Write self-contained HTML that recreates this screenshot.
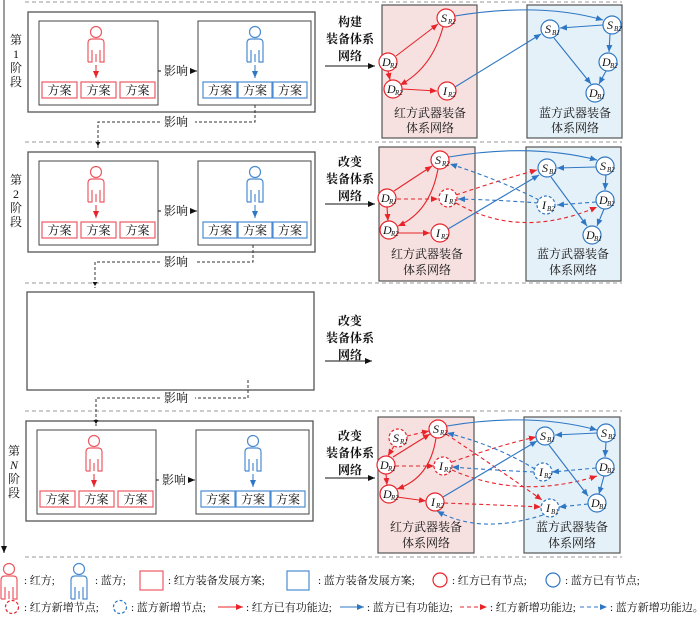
<!DOCTYPE html>
<html><head><meta charset="utf-8"><style>
body{margin:0;background:#fff;}
svg{display:block;font-family:"Liberation Serif","Noto Serif CJK SC",serif;}
.t{font-size:12px;fill:#111;}
.lg{font-size:11px;fill:#111;}
.nl{font-size:12px;font-style:italic;fill:#111;}
.sb{font-size:7px;font-style:italic;fill:#111;}
</style></head><body>
<svg width="700" height="620" viewBox="0 0 700 620" xmlns="http://www.w3.org/2000/svg">
<defs>
<marker id="ak" markerWidth="8" markerHeight="8" refX="7" refY="3" orient="auto" markerUnits="userSpaceOnUse"><path d="M0,0 L7,3 L0,6 Z" fill="#111"/></marker>
<marker id="ar" markerWidth="8" markerHeight="8" refX="7" refY="3" orient="auto" markerUnits="userSpaceOnUse"><path d="M0,0 L7,3 L0,6 Z" fill="#e8232a"/></marker>
<marker id="ab" markerWidth="8" markerHeight="8" refX="7" refY="3" orient="auto" markerUnits="userSpaceOnUse"><path d="M0,0 L7,3 L0,6 Z" fill="#2f77c4"/></marker>
<g id="pr"><circle cx="0" cy="6" r="5.5" fill="#fff" stroke="#ec5a63" stroke-width="1.2"/><path d="M-8,36 V17 Q-8,13 -4,13 H4 Q8,13 8,17 V36 H4 V25 M-4,25 V36 H-8 M-4,36 V24 M0,28 V36 M4,36 V24" fill="none" stroke="#ec5a63" stroke-width="1.2"/></g>
<g id="pb"><circle cx="0" cy="6" r="5.5" fill="#fff" stroke="#4a8bd0" stroke-width="1.2"/><path d="M-8,36 V17 Q-8,13 -4,13 H4 Q8,13 8,17 V36 H4 V25 M-4,25 V36 H-8 M-4,36 V24 M0,28 V36 M4,36 V24" fill="none" stroke="#4a8bd0" stroke-width="1.2"/></g>
<g id="stage">
<rect x="28" y="12" width="287" height="100" fill="#fff" stroke="#555" stroke-width="1.3"/>
<rect x="39" y="21" width="119" height="84" fill="#fff" stroke="#444" stroke-width="1"/>
<rect x="198" y="21" width="113" height="84" fill="#fff" stroke="#444" stroke-width="1"/>
<use href="#pr" x="96" y="26"/>
<use href="#pb" x="255" y="26"/>
<line x1="96" y1="65" x2="96" y2="78" stroke="#e8232a" marker-end="url(#ar)"/>
<line x1="255" y1="65" x2="255" y2="78" stroke="#2f77c4" marker-end="url(#ab)"/>
<g fill="#fff" stroke="#ec5a63" stroke-width="1.2"><rect x="42" y="82" width="35" height="16"/><rect x="81" y="82" width="35" height="16"/><rect x="120" y="82" width="35" height="16"/></g>
<g fill="#fff" stroke="#4a8bd0" stroke-width="1.2"><rect x="203" y="82" width="34" height="16"/><rect x="238" y="82" width="34" height="16"/><rect x="273" y="82" width="34" height="16"/></g>
<g class="t" text-anchor="middle"><text x="59.5" y="94.5">方案</text><text x="98.5" y="94.5">方案</text><text x="137.5" y="94.5">方案</text><text x="220" y="94.5">方案</text><text x="255" y="94.5">方案</text><text x="290" y="94.5">方案</text><text x="176" y="75">影响</text></g>
<line x1="158" y1="71" x2="162" y2="71" stroke="#111" stroke-dasharray="3,2"/>
<line x1="191" y1="71" x2="197" y2="71" stroke="#111" marker-end="url(#ak)"/>
</g>
</defs>

<g stroke="#999" stroke-dasharray="4,3" stroke-width="1"><line x1="25" y1="2" x2="622" y2="2"/><line x1="25" y1="142" x2="622" y2="142"/><line x1="25" y1="283" x2="622" y2="283"/><line x1="25" y1="411" x2="622" y2="411"/><line x1="25" y1="557" x2="622" y2="557"/></g>
<line x1="4" y1="0" x2="4" y2="553" stroke="#666" stroke-width="1.3" marker-end="url(#ak)"/>

<use href="#stage"/>
<use href="#stage" y="140"/>
<use href="#stage" x="-2" y="409"/>
<rect x="27" y="292" width="287" height="98" fill="#fff" stroke="#555" stroke-width="1.3"/>

<g class="t" font-size="13" text-anchor="middle"><text x="16" y="44">第</text><text x="16" y="58">1</text><text x="16" y="72">阶</text><text x="16" y="86">段</text>
<text x="16" y="184">第</text><text x="16" y="198">2</text><text x="16" y="212">阶</text><text x="16" y="226">段</text>
<text x="14" y="455">第</text><text x="14" y="469" font-style="italic">N</text><text x="14" y="483">阶</text><text x="14" y="497">段</text></g>

<g fill="none" stroke="#333" stroke-dasharray="3,2"><path d="M255,105 V122 H195 M160,122 H98 V148"/><path d="M253,245 V262 H195 M160,262 H95 V288"/><path d="M248,380 V398 H195 M160,398 H96 V426"/></g>
<g class="t" text-anchor="middle"><text x="176" y="126">影响</text><text x="176" y="266">影响</text><text x="176" y="402">影响</text></g>
<path d="M98,146 l-2.5,-4 h5z M95,286 l-2.5,-4 h5z M96,424 l-2.5,-4 h5z" fill="#111"/>

<g class="t" text-anchor="middle" font-weight="bold"><text x="350" y="26">构建</text><text x="350" y="43">装备体系</text><text x="350" y="60">网络</text>
<text x="350" y="166">改变</text><text x="350" y="183">装备体系</text><text x="350" y="200">网络</text>
<text x="350" y="325">改变</text><text x="350" y="342">装备体系</text><text x="350" y="359">网络</text>
<text x="350" y="440">改变</text><text x="350" y="457">装备体系</text><text x="350" y="474">网络</text></g>
<g stroke="#111" marker-end="url(#ak)"><line x1="325" y1="66" x2="375" y2="66"/><line x1="325" y1="204" x2="375" y2="204"/><line x1="325" y1="361" x2="372" y2="361"/><line x1="325" y1="478" x2="375" y2="478"/></g>

<g stroke="#555" stroke-width="1.2"><rect x="382" y="5" width="95" height="133" fill="#f6e1e0"/><rect x="527" y="5" width="95" height="133" fill="#e5f1f8"/>
<rect x="379" y="147" width="96" height="134" fill="#f6e1e0"/><rect x="526" y="147" width="95" height="134" fill="#e5f1f8"/>
<rect x="378" y="417" width="96" height="136" fill="#f6e1e0"/><rect x="524" y="417" width="96" height="136" fill="#e5f1f8"/></g>
<g class="t" text-anchor="middle" font-size="13"><text x="430" y="117">红方武器装备</text><text x="430" y="132">体系网络</text><text x="575" y="117">蓝方武器装备</text><text x="575" y="132">体系网络</text>
<text x="427" y="258">红方武器装备</text><text x="427" y="274">体系网络</text><text x="573" y="258">蓝方武器装备</text><text x="573" y="274">体系网络</text>
<text x="426" y="531">红方武器装备</text><text x="426" y="547">体系网络</text><text x="572" y="531">蓝方武器装备</text><text x="572" y="547">体系网络</text></g>

<g fill="none" stroke-width="1.1">
<g stroke="#e8232a" marker-end="url(#ar)"><path d="M396,56 L438,24"/><path d="M388,71 L390,80"/><path d="M402,89 L437,91"/><path d="M443,27 Q432,68 400,85"/></g>
<g stroke="#2f77c4" marker-end="url(#ab)"><path d="M455,16 Q540,2 603,20"/><path d="M455,87 L541,34"/><path d="M603,25 L560,28"/><path d="M610,34 L609,52"/><path d="M554,38 L591,84"/><path d="M606,71 L599,84"/></g>
</g>
<g fill="none" stroke-width="1.1">
<g stroke="#e8232a" marker-end="url(#ar)"><path d="M394,191 L432,166"/><path d="M387,207 L388,221"/><path d="M398,233 L430,233"/><path d="M438,169 Q430,212 398,226"/></g>
<g stroke="#e8232a" stroke-dasharray="4,3" marker-end="url(#ar)"><path d="M397,199 L438,199"/><path d="M456,195 Q500,180 537,170"/><path d="M456,203 Q520,240 597,207"/></g>
<g stroke="#2f77c4" marker-end="url(#ab)"><path d="M449,157 Q530,143 597,160"/><path d="M448,229 L539,175"/><path d="M596,167 L557,168"/><path d="M606,174 L605,190"/><path d="M551,177 L587,226"/><path d="M604,209 L597,226"/></g>
<g stroke="#2f77c4" stroke-dasharray="4,3" marker-end="url(#ab)"><path d="M539,200 Q500,180 450,164"/><path d="M538,203 Q500,200 458,199"/><path d="M596,202 L557,205"/></g>
</g>
<g fill="none" stroke-width="1.1">
<g stroke="#e8232a" marker-end="url(#ar)"><path d="M393,457 L430,434"/><path d="M386,474 L387,485"/><path d="M397,497 L426,501"/><path d="M436,438 Q430,478 397,489"/></g>
<g stroke="#e8232a" stroke-dasharray="4,3" marker-end="url(#ar)"><path d="M407,436 L429,431"/><path d="M394,446 L388,456"/><path d="M395,466 L434,466"/><path d="M452,462 Q500,445 536,437"/><path d="M452,470 Q520,500 597,476"/><path d="M444,503 Q500,505 541,507"/><path d="M446,434 Q500,470 542,500"/></g>
<g stroke="#2f77c4" marker-end="url(#ab)"><path d="M447,426 Q530,412 597,430"/><path d="M443,497 L537,441"/><path d="M597,433 L555,435"/><path d="M606,442 L605,457"/><path d="M549,445 L588,496"/><path d="M604,476 L599,494"/></g>
<g stroke="#2f77c4" stroke-dasharray="4,3" marker-end="url(#ab)"><path d="M535,469 Q495,445 447,433"/><path d="M534,472 Q490,470 452,467"/><path d="M596,468 L552,472"/><path d="M588,504 L559,507"/><path d="M543,515 Q480,535 437,511"/></g>
</g>

<g stroke-width="1.2" fill="#fff">
<g stroke="#e8232a"><circle cx="446" cy="18" r="9"/><circle cx="388" cy="62" r="9"/><circle cx="393" cy="89" r="9"/><circle cx="447" cy="91" r="9"/>
<circle cx="440" cy="160" r="9"/><circle cx="387" cy="198" r="9"/><circle cx="389" cy="230" r="9"/><circle cx="440" cy="233" r="9"/>
<circle cx="438" cy="429" r="9"/><circle cx="386" cy="465" r="9"/><circle cx="389" cy="494" r="9"/><circle cx="435" cy="502" r="9"/></g>
<g stroke="#e8232a" stroke-dasharray="3,2"><circle cx="448" cy="198" r="9"/><circle cx="398" cy="438" r="9"/><circle cx="443" cy="466" r="9"/></g>
<g stroke="#2f77c4"><circle cx="550" cy="29" r="9"/><circle cx="612" cy="25" r="9"/><circle cx="608" cy="62" r="9"/><circle cx="595" cy="93" r="9"/>
<circle cx="547" cy="168" r="9"/><circle cx="605" cy="166" r="9"/><circle cx="605" cy="200" r="9"/><circle cx="592" cy="235" r="9"/>
<circle cx="545" cy="436" r="9"/><circle cx="606" cy="433" r="9"/><circle cx="605" cy="467" r="9"/><circle cx="597" cy="503" r="9"/></g>
<g stroke="#2f77c4" stroke-dasharray="3,2"><circle cx="546" cy="205" r="9"/><circle cx="543" cy="472" r="9"/><circle cx="550" cy="508" r="9"/></g>
</g>
<g>
<text class="nl" x="441" y="22">S</text><text class="sb" x="448" y="24">R2</text>
<text class="nl" x="382" y="66">D</text><text class="sb" x="390" y="68">R1</text>
<text class="nl" x="387" y="93">D</text><text class="sb" x="395" y="95">R2</text>
<text class="nl" x="443" y="95">I</text><text class="sb" x="448" y="97">R2</text>
<text class="nl" x="545" y="33">S</text><text class="sb" x="552" y="35">B1</text>
<text class="nl" x="607" y="29">S</text><text class="sb" x="614" y="31">B2</text>
<text class="nl" x="602" y="66">D</text><text class="sb" x="610" y="68">B2</text>
<text class="nl" x="589" y="97">D</text><text class="sb" x="597" y="99">B1</text>

<text class="nl" x="435" y="164">S</text><text class="sb" x="442" y="166">R2</text>
<text class="nl" x="381" y="202">D</text><text class="sb" x="389" y="204">R1</text>
<text class="nl" x="383" y="234">D</text><text class="sb" x="391" y="236">R2</text>
<text class="nl" x="436" y="237">I</text><text class="sb" x="441" y="239">R2</text>
<text class="nl" x="444" y="202">I</text><text class="sb" x="449" y="204">R1</text>
<text class="nl" x="542" y="172">S</text><text class="sb" x="549" y="174">B1</text>
<text class="nl" x="600" y="170">S</text><text class="sb" x="607" y="172">B2</text>
<text class="nl" x="599" y="204">D</text><text class="sb" x="607" y="206">B2</text>
<text class="nl" x="586" y="239">D</text><text class="sb" x="594" y="241">B1</text>
<text class="nl" x="542" y="209">I</text><text class="sb" x="547" y="211">B2</text>

<text class="nl" x="433" y="433">S</text><text class="sb" x="440" y="435">R2</text>
<text class="nl" x="393" y="442">S</text><text class="sb" x="400" y="444">R1</text>
<text class="nl" x="380" y="469">D</text><text class="sb" x="388" y="471">R1</text>
<text class="nl" x="383" y="498">D</text><text class="sb" x="391" y="500">R2</text>
<text class="nl" x="439" y="470">I</text><text class="sb" x="444" y="472">R1</text>
<text class="nl" x="431" y="506">I</text><text class="sb" x="436" y="508">R2</text>
<text class="nl" x="540" y="440">S</text><text class="sb" x="547" y="442">B1</text>
<text class="nl" x="601" y="437">S</text><text class="sb" x="608" y="439">B2</text>
<text class="nl" x="599" y="471">D</text><text class="sb" x="607" y="473">B2</text>
<text class="nl" x="591" y="507">D</text><text class="sb" x="599" y="509">B1</text>
<text class="nl" x="539" y="476">I</text><text class="sb" x="544" y="478">B2</text>
<text class="nl" x="546" y="512">I</text><text class="sb" x="551" y="514">B1</text>
</g>

<use href="#pr" x="9" y="563"/>
<use href="#pb" x="79" y="563"/>
<rect x="140" y="571" width="23" height="19" fill="#fff" stroke="#ec5a63" stroke-width="1.2"/>
<rect x="287" y="571" width="22" height="19" fill="#fff" stroke="#4a8bd0" stroke-width="1.2"/>
<circle cx="440" cy="580" r="7" fill="#fff" stroke="#e8232a" stroke-width="1.2"/>
<circle cx="553" cy="580" r="7" fill="#fff" stroke="#2f77c4" stroke-width="1.2"/>
<circle cx="12" cy="607" r="6.5" fill="#fff" stroke="#e8232a" stroke-width="1.2" stroke-dasharray="3,2"/>
<circle cx="120" cy="607" r="6.5" fill="#fff" stroke="#2f77c4" stroke-width="1.2" stroke-dasharray="3,2"/>
<line x1="218" y1="607" x2="243" y2="607" stroke="#e8232a" marker-end="url(#ar)"/>
<line x1="340" y1="607" x2="364" y2="607" stroke="#2f77c4" marker-end="url(#ab)"/>
<line x1="460" y1="607" x2="487" y2="607" stroke="#e8232a" stroke-dasharray="4,3" marker-end="url(#ar)"/>
<line x1="580" y1="607" x2="607" y2="607" stroke="#2f77c4" stroke-dasharray="4,3" marker-end="url(#ab)"/>
<g class="lg"><text x="24" y="584">: 红方;</text><text x="95" y="584">: 蓝方;</text><text x="168" y="584">: 红方装备发展方案;</text><text x="318" y="584">: 蓝方装备发展方案;</text><text x="452" y="584">: 红方已有节点;</text><text x="565" y="584">: 蓝方已有节点;</text>
<text x="24" y="611">: 红方新增节点;</text><text x="131" y="611">: 蓝方新增节点;</text><text x="246" y="611">: 红方已有功能边;</text><text x="367" y="611">: 蓝方已有功能边;</text><text x="490" y="611">: 红方新增功能边;</text><text x="610" y="611">: 蓝方新增功能边。</text></g>
</svg>
</body></html>
